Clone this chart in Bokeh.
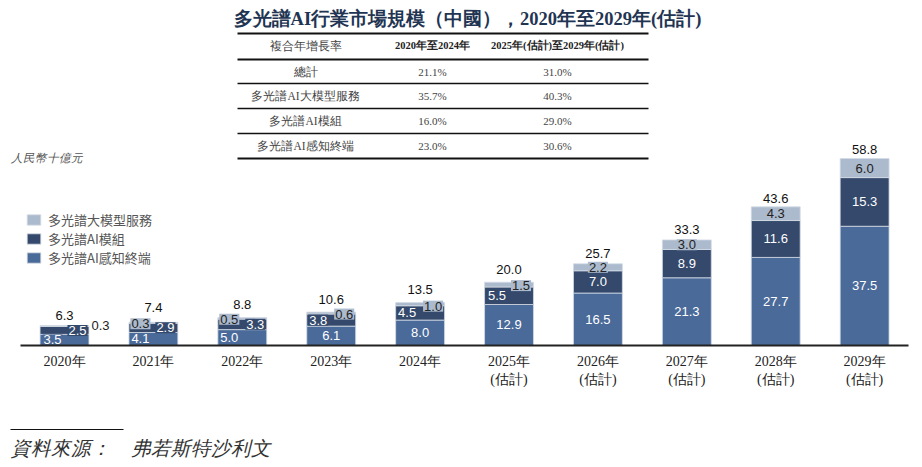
from bokeh.plotting import figure
from bokeh.models import (ColumnDataSource, Range1d, FixedTicker, Label,
                          BoxAnnotation, Legend, LegendItem)
from bokeh.core.properties import value
from bokeh.embed import file_html
from bokeh.resources import INLINE

# ---------------- data ----------------
years = ["2020年", "2021年", "2022年", "2023年", "2024年",
         "2025年\n(估計)", "2026年\n(估計)", "2027年\n(估計)",
         "2028年\n(估計)", "2029年\n(估計)"]
perception = [3.5, 4.1, 5.0, 6.1, 8.0, 12.9, 16.5, 21.3, 27.7, 37.5]   # 多光譜AI感知終端
module = [2.5, 2.9, 3.3, 3.8, 4.5, 5.5, 7.0, 8.9, 11.6, 15.3]          # 多光譜AI模組
service = [0.3, 0.3, 0.5, 0.6, 1.0, 1.5, 2.2, 3.0, 4.3, 6.0]           # 多光譜大模型服務
totals = [6.3, 7.4, 8.8, 10.6, 13.5, 20.0, 25.7, 33.3, 43.6, 58.8]
series_names = ["多光譜AI感知終端", "多光譜AI模組", "多光譜大模型服務"]

title_text = "多光譜AI行業市場規模（中國），2020年至2029年(估計)"
unit_text = "人民幣十億元"
source_text = "資料來源：　弗若斯特沙利文"
table_header = ["複合年增長率", "2020年至2024年", "2025年(估計)至2029年(估計)"]
cagr_rows = ["總計", "多光譜AI大模型服務", "多光譜AI模組", "多光譜AI感知終端"]
cagr_2020_2024 = ["21.1%", "35.7%", "16.0%", "23.0%"]
cagr_2025_2029 = ["31.0%", "40.3%", "29.0%", "30.6%"]

# ---------------- style / layout ----------------
W, H = 922, 467
C_MED, C_DARK, C_LIGHT = "#4a6a99", "#34496b", "#acbacd"
colors = [C_MED, C_DARK, C_LIGHT]
# horizontal pixel nudges of segment labels (medium, dark, light) for small bars
label_dx = {0: (-12, 13, 36), 1: (-13, 12, -13), 2: (-13, 13, -13),
            3: (0, -13, 13), 4: (0, -13, 13), 5: (0, -12, 12)}
light_dy = {1: 1, 2: 1, 3: 1, 4: 2, 5: 1}
total_dy = {0: -5, 1: -10, 2: -9, 3: -8, 4: -9, 5: -8, 6: -6, 7: -6, 8: -4, 9: -5}

p = figure(width=W, height=H, output_backend="svg", toolbar_location=None,
           x_range=Range1d(-0.720, 9.651), y_range=Range1d(-38.36, 108.49),
           min_border=0, outline_line_color=None)
p.grid.visible = False
p.yaxis.visible = False
p.background_fill_color = "white"

xs = list(range(len(years)))
src = ColumnDataSource(dict(x=xs, perception=perception, module=module, service=service))
rs = p.vbar_stack(["perception", "module", "service"], x="x", width=0.55, color=colors,
                  line_color="#d3dae4", line_width=0.8, source=src)

# segment labels
lx, ly, lt, ltc, lbg, lba, ldx, ldy = [], [], [], [], [], [], [], []
for i in xs:
    vals = [perception[i], module[i], service[i]]
    base = 0.0
    for k, v in enumerate(vals):
        lx.append(i)
        ly.append(base + v / 2.0)
        lt.append(f"{v:.1f}")
        ltc.append("#222222" if k == 2 else "white")
        lbg.append(colors[k])
        lba.append(0.0 if (i == 0 and k == 2) else 1.0)
        ldx.append(label_dx.get(i, (0, 0, 0))[k])
        ldy.append(light_dy.get(i, 0) if k == 2 else 0)
        base += v
lsrc = ColumnDataSource(dict(x=lx, y=ly, t=lt, tc=ltc, bg=lbg, ba=lba, dx=ldx, dy=ldy))
p.text(x="x", y="y", text="t", source=lsrc, x_offset="dx", y_offset="dy", text_color="tc",
       background_fill_color="bg", background_fill_alpha="ba", padding=1,
       text_align="center", text_baseline="middle",
       text_font=value("Liberation Sans"), text_font_size="13px")

# totals
tsrc = ColumnDataSource(dict(x=xs, y=totals, t=[f"{v:.1f}" for v in totals],
                             dy=[total_dy.get(i, -4) for i in xs]))
p.text(x="x", y="y", text="t", source=tsrc, y_offset="dy", text_color="#111111",
       text_align="center", text_baseline="bottom",
       text_font=value("Liberation Sans"), text_font_size="13px")

# x axis drawn at the baseline
ax = p.xaxis[0]
ax.ticker = FixedTicker(ticks=xs)
ax.major_label_overrides = {i: years[i] for i in xs}
ax.fixed_location = 0
ax.bounds = (-0.5, 9.49)
ax.axis_line_width = 2
ax.axis_line_color = "#222222"
ax.major_tick_line_color = None
ax.minor_tick_line_color = None
ax.major_label_standoff = 2
ax.major_label_text_font = "Liberation Serif"
ax.major_label_text_font_size = "14px"
ax.major_label_text_color = "#222222"

# legend
legend = Legend(items=[LegendItem(label=series_names[2], renderers=[rs[2]]),
                       LegendItem(label=series_names[1], renderers=[rs[1]]),
                       LegendItem(label=series_names[0], renderers=[rs[0]])],
                location=(25, 200), glyph_width=17, glyph_height=13, label_height=13,
                spacing=0, padding=0, margin=0, label_standoff=6,
                border_line_color=None, background_fill_alpha=0,
                label_text_font="Noto Sans CJK TC", label_text_font_size="13px",
                label_text_color="#555555")
p.add_layout(legend)


def slabel(text, x, ytop, align="center", size="11px", bold=False, italic=False,
           color="#444444", font="Liberation Serif"):
    style = "bold" if bold else ("italic" if italic else "normal")
    p.add_layout(Label(x=x, y=H - ytop, x_units="screen", y_units="screen", text=text,
                       text_align=align, text_baseline="middle", text_font=font,
                       text_font_size=size, text_font_style=style, text_color=color))


def hline(x0, x1, ytop, thick):
    p.add_layout(BoxAnnotation(left=x0, right=x1, top=H - ytop + thick / 2.0,
                               bottom=H - ytop - thick / 2.0, left_units="screen",
                               right_units="screen", top_units="screen",
                               bottom_units="screen", fill_color="#111111",
                               fill_alpha=1.0, line_color=None, level="annotation"))


# title
slabel(title_text, 467, 18, size="18.5px", bold=True, color="#1f3553")

# table
col_x = [305, 432, 557]
hline(237, 648, 33, 2.2)
for cx, h, b in zip(col_x, table_header, [False, True, True]):
    slabel(h, cx, 45, size="11.5px" if not b else "10.5px", bold=b,
           color="#444444" if not b else "#222222")
hline(237, 648, 59, 2.0)
row_y = [71, 95, 120, 145]
line_y = [83, 108, 133, 158]
for j in range(len(cagr_rows)):
    slabel(cagr_rows[j], col_x[0], row_y[j], size="11.5px")
    slabel(cagr_2020_2024[j], col_x[1], row_y[j], size="11px")
    slabel(cagr_2025_2029[j], col_x[2], row_y[j], size="11px")
    hline(237, 648, line_y[j], 2.0 if j == len(cagr_rows) - 1 else 1.6)

# unit
slabel(unit_text, 10, 157, align="left", size="11.5px", italic=True, color="#555555")

# footnote
hline(10, 123, 429, 1.0)
slabel(source_text, 10, 448, align="left", size="19.5px", italic=True, color="#333333")

open("out.html", "w").write(file_html(p, INLINE))
